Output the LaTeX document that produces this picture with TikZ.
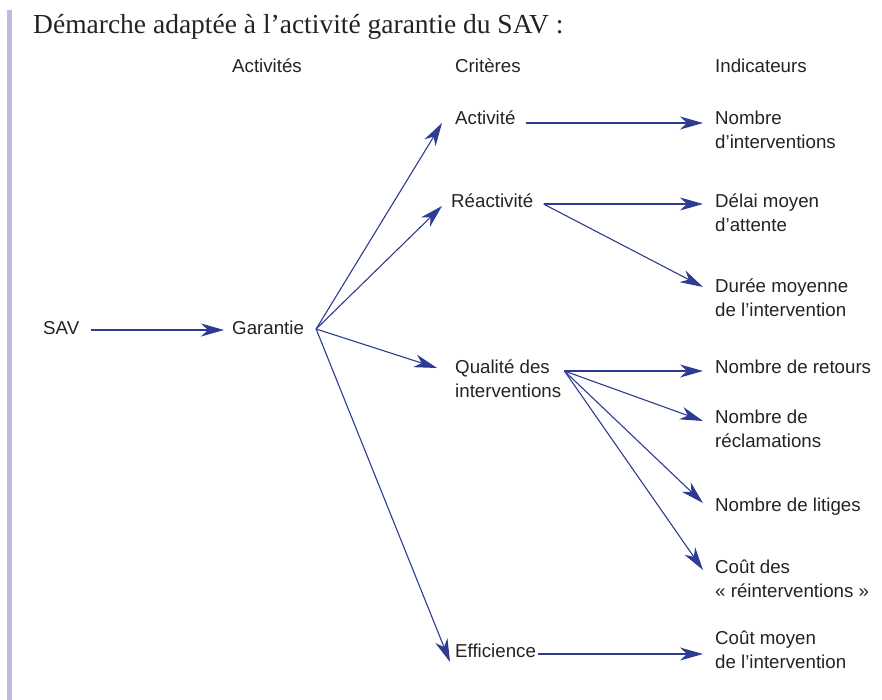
\documentclass[tikz,border=0pt]{standalone}
\usepackage{fontspec}
\setmainfont{Liberation Serif}
\newfontfamily\diagfont{Liberation Sans}
\usetikzlibrary{arrows.meta}
\definecolor{arrowblue}{RGB}{45,60,145}
\definecolor{barlilac}{RGB}{188,188,224}
\definecolor{textgray}{RGB}{35,35,35}

\begin{document}
\begin{tikzpicture}[x=1pt,y=-1pt,>={Stealth[length=23pt,width=13pt,inset=7pt]},
 lbl/.style={anchor=base west,inner sep=0pt,align=left,text=textgray,
 font=\diagfont\fontsize{18.7}{24}\selectfont},
 arr/.style={->,draw=arrowblue,line width=1.1pt}]
\useasboundingbox (0,0) rectangle (882,700);
\fill[barlilac] (7,10) rectangle (12,700);
\node[anchor=base west,inner sep=0pt,text=textgray,font=\fontsize{27.5}{32}\selectfont]
 (title) at (33,34) {Démarche adaptée à l’activité garantie du SAV :};
% column heads
\node[lbl] (hact) at (232,73) {Activités};
\node[lbl] (hcrit) at (455,73) {Critères};
\node[lbl] (hind) at (715,73) {Indicateurs};
% activities
\node[lbl] (sav) at (43,334) {SAV};
\node[lbl] (gar) at (232,334) {Garantie};
% criteria (two-line nodes sit on their last line)
\node[lbl] (act) at (455,125) {Activité};
\node[lbl] (reac) at (451,208) {Réactivité};
\node[lbl] (qual) at (455,397) {Qualité des\\interventions};
\node[lbl] (eff) at (455,657) {Efficience};
% indicators
\node[lbl] (nint) at (715,149) {Nombre\\d’interventions};
\node[lbl] (delai) at (715,232) {Délai moyen\\d’attente};
\node[lbl] (duree) at (715,316) {Durée moyenne\\de l’intervention};
\node[lbl] (ret) at (715,373) {Nombre de retours};
\node[lbl] (recl) at (715,447) {Nombre de\\réclamations};
\node[lbl] (lit) at (715,511) {Nombre de litiges};
\node[lbl] (cdes) at (715,597) {Coût des\\« réinterventions »};
\node[lbl] (cmoy) at (715,668) {Coût moyen\\de l’intervention};
% connectors
\draw[arr] ([shift={(12,-4)}]sav.base east) -- ([shift={(-8,-4)}]gar.base west);
\draw[arr] ([shift={(12,-5)}]gar.base east) -- ([shift={(-13,-2)}]act.base west);
\draw[arr] ([shift={(12,-5)}]gar.base east) -- ([shift={(-9,-2)}]reac.base west);
\draw[arr] ([shift={(12,-5)}]gar.base east) -- ([shift={(-18,-29)}]qual.base west);
\draw[arr] ([shift={(12,-5)}]gar.base east) -- ([shift={(-5,5)}]eff.base west);
\draw[arr] ([shift={(10,-2)}]act.base east) -- ([shift={(-12,-26)}]nint.base west);
\draw[arr] ([shift={(10,-4)}]reac.base east) -- ([shift={(-12,-28)}]delai.base west);
\draw[arr] ([shift={(10,-4)}]reac.base east) -- ([shift={(-12,-29)}]duree.base west);
\draw[arr] ([shift={(3,-26)}]qual.base east) -- ([shift={(-12,-2)}]ret.base west);
\draw[arr] ([shift={(3,-26)}]qual.base east) -- ([shift={(-12,-26)}]recl.base west);
\draw[arr] ([shift={(3,-26)}]qual.base east) -- ([shift={(-12,-8)}]lit.base west);
\draw[arr] ([shift={(3,-26)}]qual.base east) -- ([shift={(-12,-27)}]cdes.base west);
\draw[arr] ([shift={(2,-3)}]eff.base east) -- ([shift={(-12,-14)}]cmoy.base west);
\end{tikzpicture}
\end{document}
